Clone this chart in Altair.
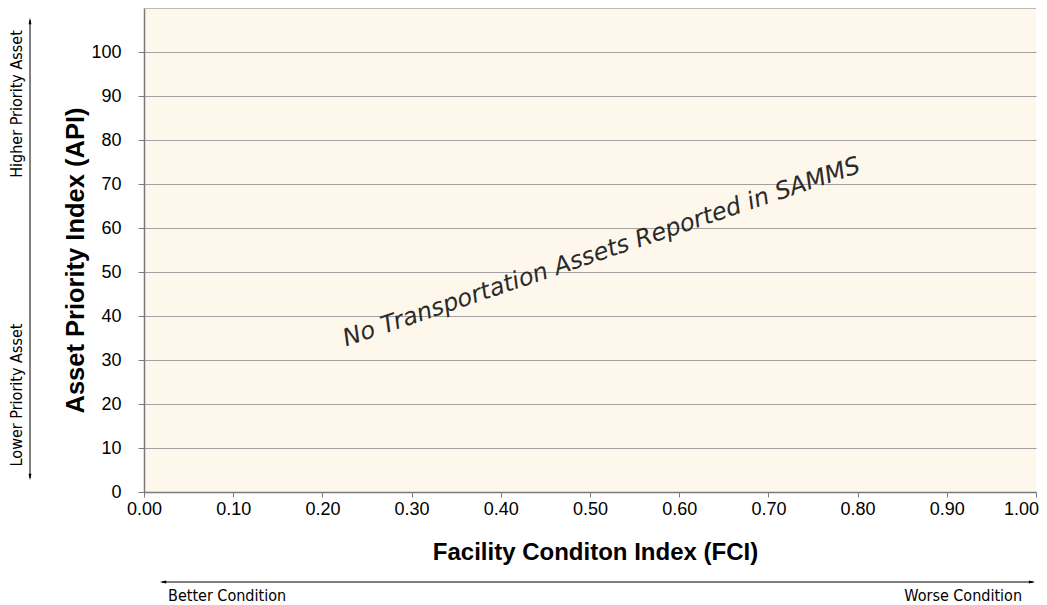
import altair as alt
import pandas as pd

# ---- data / text ----
x_ticks = [0.0, 0.1, 0.2, 0.3, 0.4, 0.5, 0.6, 0.7, 0.8, 0.9, 1.0]
y_ticks = [0, 10, 20, 30, 40, 50, 60, 70, 80, 90, 100]
x_domain = [0, 1]
y_domain = [0, 110]
message = ["No Transportation Assets Reported in SAMMS"]
message_fci = [0.513]
message_api = [54.4]
x_title = "Facility Conditon Index (FCI)"
y_title = "Asset Priority Index (API)"
top_label = "Higher Priority Asset"
bottom_label = "Lower Priority Asset"
left_label = "Better Condition"
right_label = "Worse Condition"

W, H = 892, 484
narrow = "Liberation Sans Narrow, DejaVu Sans Condensed, sans-serif"

x_scale = alt.Scale(domain=x_domain, nice=False, zero=False)
y_scale = alt.Scale(domain=y_domain, nice=False, zero=False)

x_enc = alt.X("fci:Q", scale=x_scale,
              axis=alt.Axis(values=x_ticks, format=".2f", title=x_title, grid=False,
                            tickSize=5, labelPadding=3, titlePadding=22,
                            titleX=451, labelFlush=False,
                            labelOffset=alt.expr("datum.value >= 1 ? -15 : 0")))
y_enc = alt.Y("api:Q", scale=y_scale,
              axis=alt.Axis(values=y_ticks, title=y_title, grid=True,
                            tickSize=6, labelPadding=17, titlePadding=2,
                            titleY=252, titleFontSize=25.5))

msg_df = pd.DataFrame({"fci": message_fci, "api": message_api, "t": message})
msg = alt.Chart(msg_df).mark_text(
    angle=341.3, fontSize=24, fontStyle="italic",
    font="DejaVu Sans, Liberation Sans, sans-serif", color="#2a2a2a"
).encode(x=x_enc, y=y_enc, text="t:N")

top_df = pd.DataFrame({"api": [y_domain[1]]})
top_line = alt.Chart(top_df).mark_rule(color="#A6A6A6", strokeWidth=1.5).encode(
    y=y_enc
)

one = pd.DataFrame({"a": [0]})

v_arrow = alt.Chart(one).mark_rule(color="black", strokeWidth=1).encode(
    x=alt.value(-114), y=alt.value(12), y2=alt.value(470)
)
h_arrow = alt.Chart(one).mark_rule(color="black", strokeWidth=1).encode(
    x=alt.value(18), x2=alt.value(889), y=alt.value(574)
)
up_head = alt.Chart(one).mark_point(
    shape="M0,-1L0.45,1L-0.45,1Z", filled=True, size=40, color="black", opacity=1
).encode(x=alt.value(-114), y=alt.value(13))
down_head = alt.Chart(one).mark_point(
    shape="M0,1L0.45,-1L-0.45,-1Z", filled=True, size=40, color="black", opacity=1
).encode(x=alt.value(-114), y=alt.value(469))
left_head = alt.Chart(one).mark_point(
    shape="M-1,0L1,-0.45L1,0.45Z", filled=True, size=40, color="black", opacity=1
).encode(x=alt.value(19), y=alt.value(574))
right_head = alt.Chart(one).mark_point(
    shape="M1,0L-1,-0.45L-1,0.45Z", filled=True, size=40, color="black", opacity=1
).encode(x=alt.value(888), y=alt.value(574))

def label(txt, x, y, angle=0, align="center", baseline="middle"):
    return alt.Chart(pd.DataFrame({"t": [txt]})).mark_text(
        font=narrow, fontSize=16, color="black", angle=angle, align=align,
        baseline=baseline
    ).encode(x=alt.value(x), y=alt.value(y), text="t:N")

chart = alt.layer(
    msg, top_line, v_arrow, h_arrow, up_head, down_head, left_head, right_head,
    label(top_label, -127, 96, angle=270),
    label(bottom_label, -127, 387, angle=270),
    label(left_label, 24, 593, align="left", baseline="alphabetic"),
    label(right_label, 878, 593, align="right", baseline="alphabetic"),
).properties(
    width=W, height=H,
    autosize=alt.AutoSizeParams(type="none"),
    padding={"left": 136, "top": 0, "right": 3, "bottom": 112},
).configure_view(
    fill="#FEF7EB", strokeWidth=0
).configure_axis(
    domainColor="#7a7a7a", tickColor="#7a7a7a", gridColor="#A0A0A0",
    domainWidth=1.5, gridWidth=1.2,
    labelFont="Liberation Sans", labelFontSize=18, labelColor="black",
    titleFont="Liberation Sans", titleFontSize=24, titleFontWeight="bold",
    titleColor="black",
)

chart.save("out.html", embed_options={"renderer": "svg", "actions": False})
